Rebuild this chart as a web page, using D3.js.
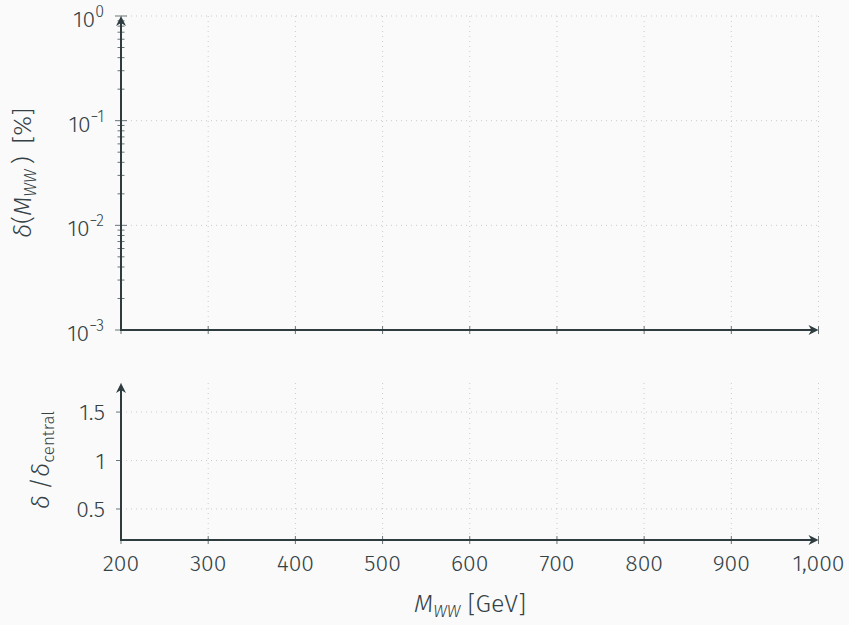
<!DOCTYPE html>
<html>
<head>
<meta charset="utf-8">
<script src="https://cdn.jsdelivr.net/npm/d3@7"></script>
<style>
  body { margin: 0; background: #fafafa; }
  text { font-family: "Fira Sans", "Noto Sans", "Open Sans", sans-serif; font-weight: 300; fill: #344246; }
</style>
</head>
<body>
<div id="canvas"></div>
<script>
var w = 849;
var h = 625;

// values
var massTicks = [200, 300, 400, 500, 600, 700, 800, 900, 1000];
var deltaTicks = [1e-3, 1e-2, 1e-1, 1];
var deltaExps = ["\u22123", "\u22122", "\u22121", "0"];
var ratioTicks = [0.5, 1, 1.5];
var massDomain = [200, 1000];
var deltaDomain = [1e-3, 1];
var ratioDomain = [0.18, 1.8];

var axisColor = "#2e3c3f";
var tickColor = "#6b7477";
var gridColor = "#c8cccd";

var xScale = d3.scaleLinear().domain(massDomain).range([121, 818.5]);
var yTop = d3.scaleLog().domain(deltaDomain).range([330, 16]);
var yBot = d3.scaleLinear().domain(ratioDomain).range([540, 383]);

var canvas = d3.select("#canvas")
    .append("svg")
    .attr("width", w)
    .attr("height", h)
    .style("background-color", "#fafafa");

// minor log ticks 2..9 per decade
var minorTicks = [];
deltaTicks.slice(0, -1).forEach(function (d) {
    for (var k = 2; k <= 9; k++) minorTicks.push(d * k);
});

// grid
function vGrid(y0, y1) {
    canvas.append("g").selectAll("line")
        .data(massTicks)
        .join("line")
        .attr("x1", d => xScale(d)).attr("x2", d => xScale(d))
        .attr("y1", y0).attr("y2", y1)
        .attr("stroke", gridColor)
        .attr("stroke-width", 1)
        .attr("stroke-dasharray", "1,4");
}
vGrid(yTop(1), yTop(1e-3));
vGrid(yBot(1.8), yBot(0.18));

canvas.append("g").selectAll("line")
    .data(deltaTicks)
    .join("line")
    .attr("x1", xScale(200)).attr("x2", xScale(1000))
    .attr("y1", d => yTop(d)).attr("y2", d => yTop(d))
    .attr("stroke", gridColor)
    .attr("stroke-dasharray", "1,4");

canvas.append("g").selectAll("line")
    .data(ratioTicks)
    .join("line")
    .attr("x1", xScale(200)).attr("x2", xScale(1000))
    .attr("y1", d => yBot(d)).attr("y2", d => yBot(d))
    .attr("stroke", gridColor)
    .attr("stroke-dasharray", "1,4");

// ticks
function xTicks(y) {
    canvas.append("g").selectAll("line")
        .data(massTicks)
        .join("line")
        .attr("x1", d => xScale(d)).attr("x2", d => xScale(d))
        .attr("y1", y - 4).attr("y2", y + 4)
        .attr("stroke", tickColor);
}
xTicks(yTop(1e-3));
xTicks(yBot(0.18));

canvas.append("g").selectAll("line")
    .data(minorTicks)
    .join("line")
    .attr("x1", xScale(200) - 3.5).attr("x2", xScale(200) + 3.5)
    .attr("y1", d => yTop(d)).attr("y2", d => yTop(d))
    .attr("stroke", tickColor);

canvas.append("g").selectAll("line")
    .data(deltaTicks)
    .join("line")
    .attr("x1", xScale(200) - 6).attr("x2", xScale(200) + 6)
    .attr("y1", d => yTop(d)).attr("y2", d => yTop(d))
    .attr("stroke", tickColor);

canvas.append("g").selectAll("line")
    .data(ratioTicks)
    .join("line")
    .attr("x1", xScale(200) - 5).attr("x2", xScale(200))
    .attr("y1", d => yBot(d)).attr("y2", d => yBot(d))
    .attr("stroke", tickColor);

// axis lines with arrows
var arrowPath = "M 0 0 L -10 -5 L -7 0 L -10 5 Z";

function axes(yScale, yMin, yMax) {
    var x0 = xScale(200), x1 = xScale(1000);
    var yb = yScale(yMin), yt = yScale(yMax);
    canvas.append("path")
        .attr("d", `M ${x0} ${yt + 4} L ${x0} ${yb} L ${x1 - 4} ${yb}`)
        .attr("fill", "none")
        .attr("stroke", axisColor)
        .attr("stroke-width", 2);
    canvas.append("path")
        .attr("d", arrowPath)
        .attr("fill", axisColor)
        .attr("transform", `translate(${x1}, ${yb})`);
    canvas.append("path")
        .attr("d", arrowPath)
        .attr("fill", axisColor)
        .attr("transform", `translate(${x0}, ${yt}) rotate(-90)`);
}
axes(yTop, 1e-3, 1);
axes(yBot, 0.18, 1.8);

// tick labels
canvas.append("g").selectAll("text")
    .data(massTicks)
    .join("text")
    .attr("x", d => xScale(d))
    .attr("y", 571)
    .attr("text-anchor", "middle")
    .style("font-size", "23px")
    .text(d => d3.format(",")(d));

var topLabels = canvas.append("g").selectAll("text")
    .data(deltaTicks)
    .join("text")
    .attr("x", 104)
    .attr("y", d => yTop(d) + 11)
    .attr("text-anchor", "end")
    .style("font-size", "23px");
topLabels.append("tspan").text("10");
topLabels.append("tspan")
    .attr("dy", -10)
    .style("font-size", "16px")
    .text((d, i) => deltaExps[i]);

canvas.append("g").selectAll("text")
    .data(ratioTicks)
    .join("text")
    .attr("x", 105)
    .attr("y", d => yBot(d) + 8)
    .attr("text-anchor", "end")
    .style("font-size", "23px")
    .text(d => d3.format("")(d));

// axis titles
var xt = canvas.append("text")
    .attr("x", 470)
    .attr("y", 612)
    .attr("text-anchor", "middle")
    .style("font-size", "25px");
xt.append("tspan").style("font-style", "italic").text("M");
xt.append("tspan").attr("dy", 5).style("font-size", "17px").style("font-style", "italic").text("WW");
xt.append("tspan").attr("dy", -5).text(" [GeV]");

var yt = canvas.append("text")
    .attr("transform", "translate(31, 173) rotate(-90)")
    .attr("text-anchor", "middle")
    .style("font-size", "25px");
yt.append("tspan").style("font-style", "italic").text("\u03b4");
yt.append("tspan").text("(");
yt.append("tspan").style("font-style", "italic").text("M");
yt.append("tspan").attr("dy", 5).style("font-size", "17px").style("font-style", "italic").text("WW");
yt.append("tspan").attr("dy", -5).text("\u2009)\u2002[%]");

var yb = canvas.append("text")
    .attr("transform", "translate(49, 460) rotate(-90)")
    .attr("text-anchor", "middle")
    .style("font-size", "25px");
yb.append("tspan").style("font-style", "italic").text("\u03b4\u2009");
yb.append("tspan").text("/");
yb.append("tspan").style("font-style", "italic").text("\u03b4");
yb.append("tspan").attr("dy", 5).style("font-size", "17px").text("central");
</script>
</body>
</html>
